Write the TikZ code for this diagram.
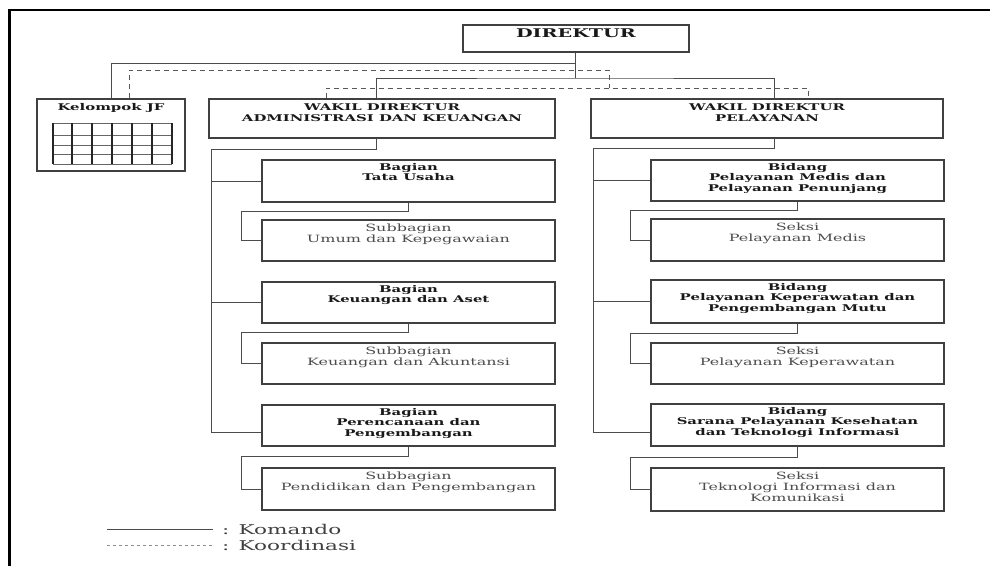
\documentclass[tikz,border=0pt]{standalone}
\usepackage{fontspec}
\setmainfont{DejaVu Serif}[FakeStretch=1.6]
\begin{document}
\begin{tikzpicture}[x=1pt,y=-1pt,
 box/.style={draw=black!75, line width=1.1pt, fill=white, inner sep=0pt, rectangle},
 hd/.style={font=\bfseries\fontsize{9.3}{10.5}\selectfont, align=center, inner sep=0pt, anchor=north, text=black!90},
 sb/.style={font=\fontsize{10}{11}\selectfont, align=center, inner sep=0pt, anchor=north, text=black!70},
 cmd/.style={draw=black!70, line width=1pt},
 crd/.style={draw=black!65, line width=0.9pt, dash pattern=on 5pt off 4pt},
 legd/.style={draw=black!45, line width=0.9pt, dash pattern=on 3pt off 3pt},
 tblv/.style={draw=black!85, line width=1.1pt},
 tblh/.style={draw=black!60, line width=0.9pt},
 lt/.style={font=\fontsize{13.5}{14}\selectfont, inner sep=0pt, anchor=west, text=black!75}
]
\useasboundingbox (0,0) rectangle (990,566);
\draw[line width=2.4pt, black] (9.5,566) -- (9.5,9.7) -- (990,9.7);

% boxes
\node[box, minimum width=226pt, minimum height=27pt] (dir) at (576,38.5) {};
\node[box, minimum width=148pt, minimum height=72pt] (jf) at (111,135) {};
\node[box, minimum width=346pt, minimum height=39pt] (wa) at (382,118.5) {};
\node[box, minimum width=352pt, minimum height=39pt] (wp) at (767,118.5) {};

\node[box, minimum width=293pt, minimum height=42pt] (bt) at (408.5,181) {};
\node[box, minimum width=293pt, minimum height=41pt] (sa) at (408.5,240.5) {};
\node[box, minimum width=293pt, minimum height=41pt] (bk) at (408.5,302.5) {};
\node[box, minimum width=293pt, minimum height=41pt] (sk) at (408.5,363.5) {};
\node[box, minimum width=293pt, minimum height=41pt] (bp) at (408.5,425.5) {};
\node[box, minimum width=293pt, minimum height=42pt] (sp) at (408.5,489) {};

\node[box, minimum width=293pt, minimum height=41pt] (bm) at (797.5,180.5) {};
\node[box, minimum width=293pt, minimum height=42pt] (sm) at (797.5,240) {};
\node[box, minimum width=293pt, minimum height=43pt] (bw) at (797.5,301.5) {};
\node[box, minimum width=293pt, minimum height=41pt] (sw) at (797.5,363.5) {};
\node[box, minimum width=293pt, minimum height=42pt] (bs) at (797.5,425) {};
\node[box, minimum width=293pt, minimum height=43pt] (st) at (797.5,489.5) {};

% texts
\node[hd, font=\bfseries\fontsize{12}{13}\selectfont] (dirT) at ([yshift=-4pt]dir.north) {DIREKTUR};
\node[hd] (jfT) at ([yshift=-4.5pt]jf.north) {Kelompok JF};
\node[hd] (waT) at ([yshift=-5.5pt]wa.north) {WAKIL DIREKTUR\\ADMINISTRASI DAN KEUANGAN};
\node[hd] (wpT) at ([yshift=-5.5pt]wp.north) {WAKIL DIREKTUR\\PELAYANAN};

\node[hd] (btT) at ([yshift=-3.5pt]bt.north) {Bagian\\Tata Usaha};
\node[sb] (saT) at ([yshift=-4.5pt]sa.north) {Subbagian\\Umum dan Kepegawaian};
\node[hd] (bkT) at ([yshift=-3.5pt]bk.north) {Bagian\\Keuangan dan Aset};
\node[sb] (skT) at ([yshift=-4.5pt]sk.north) {Subbagian\\Keuangan dan Akuntansi};
\node[hd] (bpT) at ([yshift=-3.5pt]bp.north) {Bagian\\Perencanaan dan\\Pengembangan};
\node[sb] (spT) at ([yshift=-4.5pt]sp.north) {Subbagian\\Pendidikan dan Pengembangan};

\node[hd] (bmT) at ([yshift=-3.5pt]bm.north) {Bidang\\Pelayanan Medis dan\\Pelayanan Penunjang};
\node[sb] (smT) at ([yshift=-4.5pt]sm.north) {Seksi\\Pelayanan Medis};
\node[hd] (bwT) at ([yshift=-3.5pt]bw.north) {Bidang\\Pelayanan Keperawatan dan\\Pengembangan Mutu};
\node[sb] (swT) at ([yshift=-4.5pt]sw.north) {Seksi\\Pelayanan Keperawatan};
\node[hd] (bsT) at ([yshift=-3.5pt]bs.north) {Bidang\\Sarana Pelayanan Kesehatan\\dan Teknologi Informasi};
\node[sb] (stT) at ([yshift=-4.5pt]st.north) {Seksi\\Teknologi Informasi dan\\Komunikasi};

% table in Kelompok JF
\foreach \yy in {123,135,145,154,164} \draw[tblh] (53,\yy) -- (172,\yy);
\foreach \xx in {53,72,92,112,132,152,172} \draw[tblv] (\xx,123) -- (\xx,164);

% top connectors
\coordinate (busA) at (575,63);
\coordinate (busB) at (575,78);
\coordinate (crdA) at (609,70);
\coordinate (crdB) at (609,88);
\draw[cmd] (dir.south -| busA) -- (busB);
\draw[cmd] (busA) -| (jf.north);
\draw[cmd] ([xshift=-6pt]wa.north) |- (busB) -| ([xshift=7pt]wp.north);
\draw[crd] ([xshift=18pt]jf.north) |- (crdA) -- (crdB);
\draw[crd] ([xshift=-56pt]wa.north) |- (crdB) -| ([xshift=41pt]wp.north);

% left column
\coordinate (tL) at (211,149);
\draw[cmd] ([xshift=-6pt]wa.south) |- (tL) |- ([yshift=-6.5pt]bp.west);
\draw[cmd] (tL |- bt.west) -- (bt.west);
\draw[cmd] (tL |- bk.west) -- (bk.west);
\draw[cmd] (bt.south) -- ++(0,9) -| ([xshift=-20pt]sa.west) -- (sa.west);
\draw[cmd] (bk.south) -- ++(0,9) -| ([xshift=-20pt]sk.west) -- (sk.west);
\draw[cmd] (bp.south) -- ++(0,10) -| ([xshift=-20pt]sp.west) -- (sp.west);

% right column
\coordinate (tR) at (593,148);
\draw[cmd] ([xshift=7pt]wp.south) |- (tR) |- ([yshift=-7pt]bs.west);
\draw[cmd] (tR |- bm.west) -- (bm.west);
\draw[cmd] (tR |- bw.west) -- (bw.west);
\draw[cmd] (bm.south) -- ++(0,9) -| ([xshift=-20pt]sm.west) -- (sm.west);
\draw[cmd] (bw.south) -- ++(0,10) -| ([xshift=-20pt]sw.west) -- (sw.west);
\draw[cmd] (bs.south) -- ++(0,11) -| ([xshift=-20pt]st.west) -- (st.west);

% legend
\node[lt] (legK) at (222,529) {: Komando};
\node[lt] (legD) at (222,545) {: Koordinasi};
\coordinate (legKs) at (107,529);
\coordinate (legDs) at (107,545);
\draw[cmd, line width=0.9pt] (legKs) -- (legKs -| 213,0);
\draw[legd] (legDs) -- (legDs -| 213,0);
\end{tikzpicture}
\end{document}
